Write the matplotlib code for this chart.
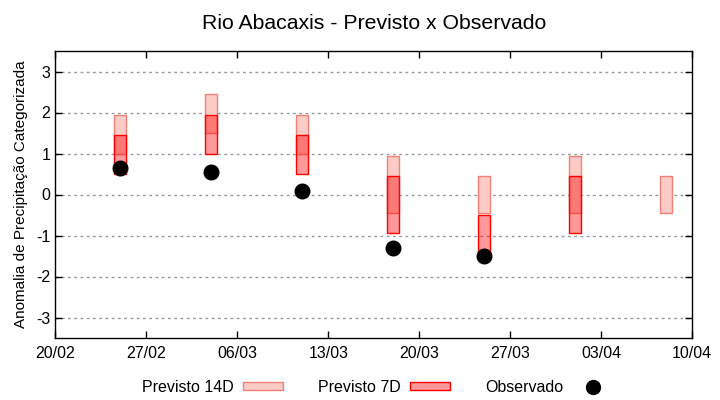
import numpy as np
import pandas as pd
import matplotlib
matplotlib.use("Agg")
import matplotlib.pyplot as plt
import matplotlib.dates as mdates
from matplotlib.patches import Patch
from matplotlib.lines import Line2D

plt.rcParams["font.family"] = ["Liberation Sans", "DejaVu Sans"]

# Datas das previsoes (semanas)
datas = pd.to_datetime(["2021-02-25", "2021-03-04", "2021-03-11", "2021-03-18",
                        "2021-03-25", "2021-04-01", "2021-04-08"])

# Faixas previstas com 14 dias de antecedencia
prev14_min = [1.0, 1.5, 1.0, -0.45, -0.45, -0.45, -0.45]
prev14_max = [1.95, 2.45, 1.95, 0.95, 0.45, 0.95, 0.45]

# Faixas previstas com 7 dias de antecedencia
prev7_min = [0.5, 1.0, 0.5, -0.95, -1.45, -0.95, np.nan]
prev7_max = [1.45, 1.95, 1.45, 0.45, -0.5, 0.45, np.nan]

# Anomalia observada
observado = [0.65, 0.56, 0.09, -1.31, -1.51, np.nan, np.nan]

yticks = [-3, -2, -1, 0, 1, 2, 3]

fig = plt.figure(figsize=(7.2, 4.0), dpi=100)
ax = fig.add_axes([0.0768, 0.155, 0.9615 - 0.0768, 0.8725 - 0.155])

x = mdates.date2num(datas)
largura = 0.95

alt14 = np.array(prev14_max) - np.array(prev14_min)
alt7 = np.array(prev7_max) - np.array(prev7_min)

ax.bar(x, alt14, bottom=prev14_min, width=largura, color="#fccbc6",
       edgecolor="#f08078", linewidth=1.0, zorder=2)
ax.bar(x, alt7, bottom=prev7_min, width=largura, color=(1, 0, 0, 0.4),
       edgecolor="#ff0000", linewidth=1.0, zorder=3)
ax.plot(x, observado, "o", color="black", markersize=10.5, zorder=4)

ax.set_ylim(-3.5, 3.5)
ax.set_yticks(yticks)
ax.set_yticklabels([str(v) for v in yticks])
ax.set_xlim(mdates.date2num(pd.Timestamp("2021-02-20")),
            mdates.date2num(pd.Timestamp("2021-04-10")))
ticks_x = pd.date_range("2021-02-20", "2021-04-10", freq="7D")
ax.set_xticks(mdates.date2num(ticks_x))
ax.xaxis.set_major_formatter(mdates.DateFormatter("%d/%m"))

ax.grid(axis="y", color="#999999", linestyle=(0, (2, 2.5)), linewidth=1, zorder=0)
ax.set_axisbelow(True)
ax.tick_params(direction="in", length=5, width=1, top=True, right=True,
               labelsize=11.5, colors="black")
ax.tick_params(axis="x", pad=6)
for s in ax.spines.values():
    s.set_linewidth(1)

ax.set_ylabel("Anomalia de Precipitação Categorizada", fontsize=11, labelpad=6)
ax.set_title("Rio Abacaxis - Previsto x Observado", fontsize=15.3, pad=16)

handles = [
    Patch(facecolor="#fccbc6", edgecolor="#f08078", linewidth=1.0),
    Patch(facecolor=(1, 0, 0, 0.4), edgecolor="#ff0000", linewidth=1.0),
    Line2D([], [], marker="o", linestyle="none", color="black", markersize=10),
]
labels = ["Previsto 14D", "Previsto 7D", "Observado"]
fig.legend(handles, labels, loc="center", bbox_to_anchor=(0.524, 0.032), ncol=3,
           frameon=False, markerfirst=False, fontsize=11.5, handlelength=2.5,
           handleheight=0.45, handletextpad=0.6, columnspacing=2.2)

fig.savefig("out.png", dpi=100)
